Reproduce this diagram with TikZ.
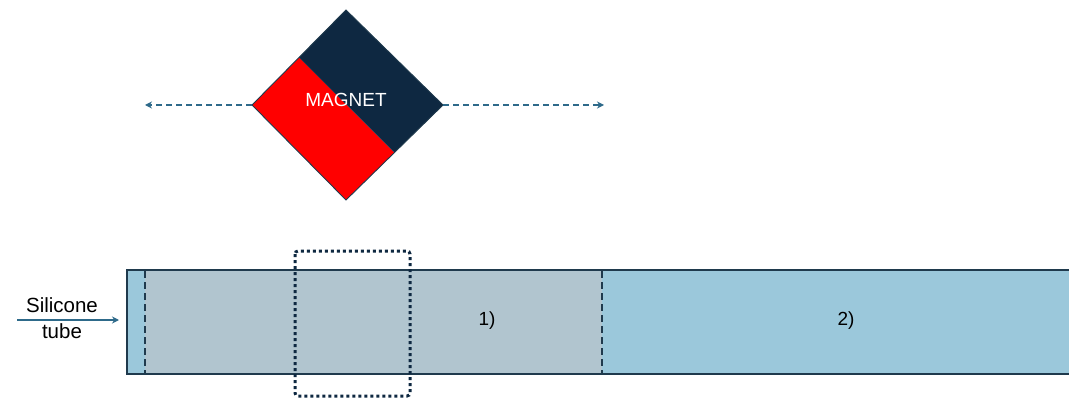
\documentclass[tikz,border=0pt]{standalone}
\usepackage{fontspec}
\setmainfont{Liberation Sans}
\usetikzlibrary{arrows.meta,calc}
\definecolor{navy}{HTML}{0E2841}
\definecolor{mred}{HTML}{FF0000}
\definecolor{tgray}{HTML}{B1C5CF}
\definecolor{tblue}{HTML}{9BC8DB}
\definecolor{edge}{HTML}{1F3A4D}
\definecolor{arr}{HTML}{2E6A8A}
\tikzset{
  movearrow/.style={arr, line width=1.4pt, dash pattern=on 6pt off 4pt, -{Stealth[length=7pt,width=7pt]}},
  tubeline/.style={edge, line width=1.6pt},
  sepline/.style={edge, line width=1.2pt, dash pattern=on 7pt off 4pt},
  lbl/.style={font=\fontsize{19}{22}\selectfont, text=black, inner sep=0pt},
}
\begin{document}
\begin{tikzpicture}[x=1pt,y=-1pt]
\useasboundingbox (0,0) rectangle (1069,401);
% magnet corners
\coordinate (T) at (346,10);
\coordinate (L) at (252,105);
\coordinate (R) at (443,105);
\coordinate (B) at (346,200);
\coordinate (M1) at ($(L)!0.5!(T)$);
\coordinate (M2) at ($(R)!0.5!(B)$);
\fill[mred] (L) -- (M1) -- (M2) -- (B) -- cycle;
\fill[navy] (M1) -- (T) -- (R) -- (M2) -- cycle;
\draw[edge, line width=0.9pt, line join=miter] (T) -- (R) -- (B) -- (L) -- cycle;
\node[font=\fontsize{19}{22}\selectfont, text=white, inner sep=0pt] (mag) at (346,100) {MAGNET};
% movement arrows
\coordinate (LA) at (145,105);
\coordinate (RA) at (604,105);
\draw[movearrow] (L) -- (LA);
\draw[movearrow] (R) -- (RA);
% tube
\fill[tblue] (127,270) rectangle (1069,374);
\fill[tgray] (145,270) rectangle (602,374);
\draw[tubeline] (1070,270) -- (127,270) -- (127,374) -- (1070,374);
\draw[sepline] (145,271) -- (145,373);
\draw[sepline] (602,271) -- (602,373);
\node[lbl] (one) at (487,321) {1)};
\node[lbl] (two) at (846,321) {2)};
\coordinate (tubeW) at (119,320);
% inlet
\node[lbl, align=center, font=\fontsize{20.5}{26}\selectfont] (sil) at (62,318) {Silicone\\tube};
\coordinate (inS) at (17,320);
\draw[arr, line width=1.3pt, -{Stealth[length=7pt,width=7pt]}] (inS) -- (tubeW);
% dotted window
\draw[navy, line width=3pt, dash pattern=on 3pt off 3pt, rounded corners=3pt] (295,251) rectangle (410,396);
\end{tikzpicture}
\end{document}
